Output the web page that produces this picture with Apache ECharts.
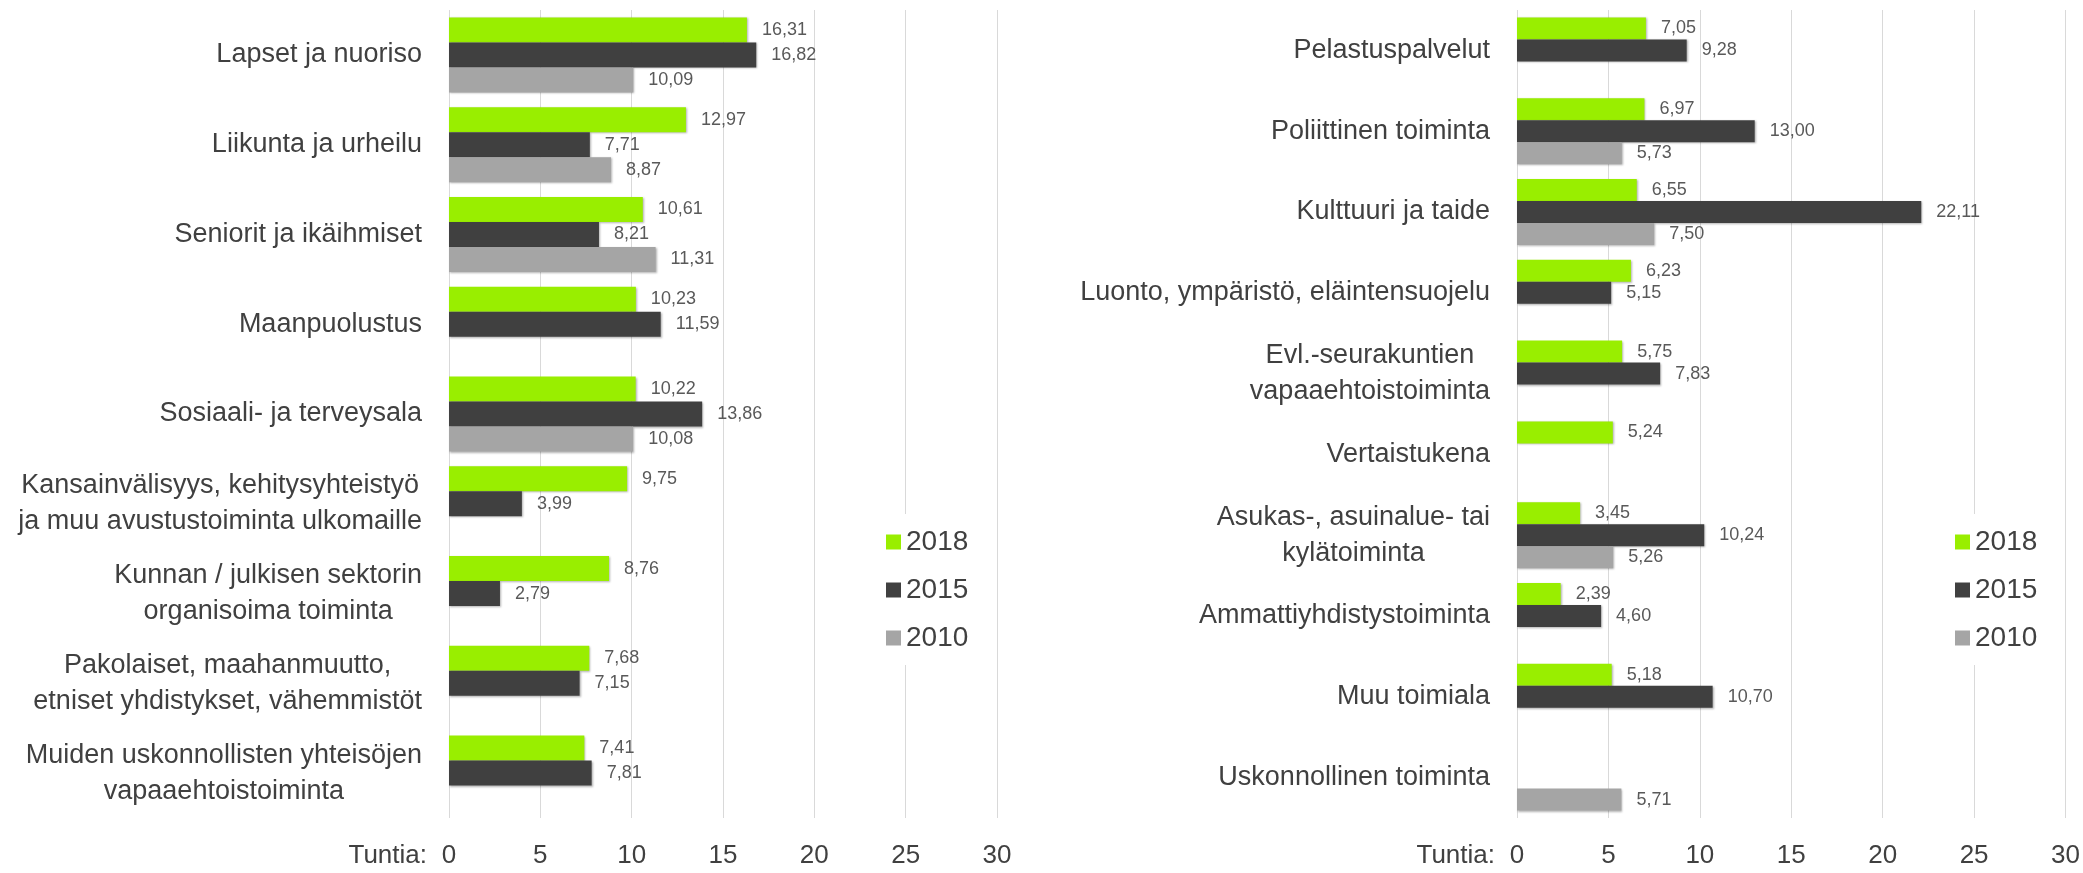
<!DOCTYPE html>
<html>
<head>
<meta charset="utf-8">
<script src="https://cdn.jsdelivr.net/npm/echarts@6/dist/echarts.min.js"></script>
<style>
  html, body { margin: 0; padding: 0; background: #fff; }
  #chart { width: 2083px; height: 873px; }
</style>
</head>
<body>
<div id="chart"></div>
<script>
// vasemman kaavion toimialat
const leftCategories = [
  "Lapset ja nuoriso",
  "Liikunta ja urheilu",
  "Seniorit ja ikäihmiset",
  "Maanpuolustus",
  "Sosiaali- ja terveysala",
  "Kansainvälisyys, kehitysyhteistyö\nja muu avustustoiminta ulkomaille",
  "Kunnan / julkisen sektorin\norganisoima toiminta",
  "Pakolaiset, maahanmuutto,\netniset yhdistykset, vähemmistöt",
  "Muiden uskonnollisten yhteisöjen\nvapaaehtoistoiminta"
];
const left2018 = [16.31, 12.97, 10.61, 10.23, 10.22, 9.75, 8.76, 7.68, 7.41];
const left2015 = [16.82, 7.71, 8.21, 11.59, 13.86, 3.99, 2.79, 7.15, 7.81];
const left2010 = [10.09, 8.87, 11.31, null, 10.08, null, null, null, null];

// oikean kaavion toimialat
const rightCategories = [
  "Pelastuspalvelut",
  "Poliittinen toiminta",
  "Kulttuuri ja taide",
  "Luonto, ympäristö, eläintensuojelu",
  "Evl.-seurakuntien\nvapaaehtoistoiminta",
  "Vertaistukena",
  "Asukas-, asuinalue- tai\nkylätoiminta",
  "Ammattiyhdistystoiminta",
  "Muu toimiala",
  "Uskonnollinen toiminta"
];
const right2018 = [7.05, 6.97, 6.55, 6.23, 5.75, 5.24, 3.45, 2.39, 5.18, null];
const right2015 = [9.28, 13.00, 22.11, 5.15, 7.83, null, 10.24, 4.60, 10.70, null];
const right2010 = [null, 5.73, 7.50, null, null, null, 5.26, null, null, 5.71];

const years = ["2018", "2015", "2010"];
const colors = ["#99ee00", "#404040", "#a5a5a5"];
const xTicks = [0, 5, 10, 15, 20, 25, 30];

const font = "Liberation Sans";
const textColor = "#404040";

const chart = echarts.init(document.getElementById("chart"));

function xAxisFor(gridIndex) {
  return {
    type: "value",
    gridIndex: gridIndex,
    min: xTicks[0],
    max: xTicks[xTicks.length - 1],
    interval: xTicks[1] - xTicks[0],
    name: "Tuntia:",
    nameLocation: "start",
    nameGap: 22,
    nameTextStyle: {
      fontFamily: font, fontSize: 26, color: textColor,
      align: "right", verticalAlign: "top", padding: [25, 0, 0, 0]
    },
    axisLine: { show: false },
    axisTick: { show: false },
    axisLabel: { fontFamily: font, fontSize: 26, color: textColor, margin: 25 },
    splitLine: { lineStyle: { color: "#d9d9d9", width: 1 } }
  };
}

function yAxisFor(gridIndex, cats) {
  return {
    type: "category",
    gridIndex: gridIndex,
    data: cats,
    inverse: true,
    axisLine: { show: false },
    axisTick: { show: false },
    axisLabel: {
      align: "right",
      margin: 27,
      formatter: v => "{c|" + v + "}",
      rich: {
        c: { align: "center", fontFamily: font, fontSize: 27, lineHeight: 36, color: textColor }
      }
    }
  };
}

function barSeries(name, data, axisIndex, width, color) {
  return {
    type: "bar",
    name: name,
    data: data,
    xAxisIndex: axisIndex,
    yAxisIndex: axisIndex,
    barWidth: width,
    barGap: "0%",
    itemStyle: {
      color: color,
      shadowColor: "rgba(0,0,0,0.3)",
      shadowBlur: 2,
      shadowOffsetX: 1,
      shadowOffsetY: 1
    },
    label: {
      show: true,
      position: "right",
      distance: 15,
      fontFamily: font,
      fontSize: 18,
      color: "#595959",
      formatter: p => p.value.toFixed(2).replace(".", ",")
    }
  };
}

function legendAt(left) {
  return {
    orient: "vertical",
    left: left,
    top: 514,
    data: years,
    icon: "rect",
    itemWidth: 15,
    itemHeight: 15,
    itemGap: 20,
    padding: [14, 10, 13, 8],
    backgroundColor: "#fff",
    textStyle: { fontFamily: font, fontSize: 28, color: textColor }
  };
}

const leftData = [left2018, left2015, left2010];
const rightData = [right2018, right2015, right2010];

chart.setOption({
  animation: false,
  grid: [
    { left: 449, width: 548, top: 10, bottom: 55 },
    { left: 1517, width: 549, top: 10, bottom: 55 }
  ],
  legend: [legendAt(878), legendAt(1947)],
  xAxis: [xAxisFor(0), xAxisFor(1)],
  yAxis: [yAxisFor(0, leftCategories), yAxisFor(1, rightCategories)],
  series: [
    ...years.map((y, i) => barSeries(y, leftData[i], 0, 25, colors[i])),
    ...years.map((y, i) => barSeries(y, rightData[i], 1, 22, colors[i]))
  ]
});
</script>
</body>
</html>
